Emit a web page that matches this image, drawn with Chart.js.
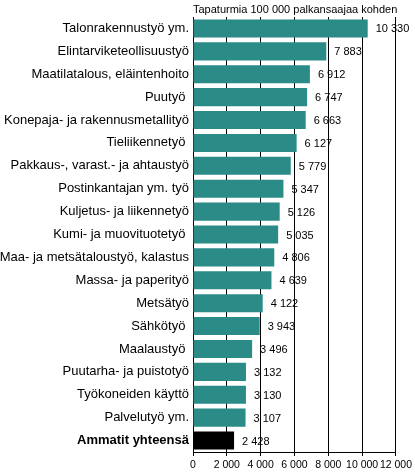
<!DOCTYPE html>
<html>
<head>
<meta charset="utf-8">
<script src="https://cdn.jsdelivr.net/npm/chart.js@4"></script>
<style>
  html, body { margin: 0; padding: 0; background: #fff; }
  #report { display: block; }
</style>
</head>
<body>
<canvas id="report" width="415" height="473"></canvas>
<script>
const ammatit = [
    'Talonrakennustyö ym.',
    'Elintarviketeollisuustyö',
    'Maatilatalous, eläintenhoito',
    'Puutyö ',
    'Konepaja- ja rakennusmetallityö',
    'Tieliikennetyö ',
    'Pakkaus-, varast.- ja ahtaustyö',
    'Postinkantajan ym. työ',
    'Kuljetus- ja liikennetyö',
    'Kumi- ja muovituotetyö ',
    'Maa- ja metsätaloustyö, kalastus',
    'Massa- ja paperityö',
    'Metsätyö',
    'Sähkötyö ',
    'Maalaustyö ',
    'Puutarha- ja puistotyö',
    'Työkoneiden käyttö',
    'Palvelutyö ym.',
    'Ammatit yhteensä'
];
const tapaturmat = [10330, 7883, 6912, 6747, 6663, 6127, 5779, 5347, 5126, 5035,
                    4806, 4639, 4122, 3943, 3496, 3132, 3130, 3107, 2428];
const xTicks = [0, 2000, 4000, 6000, 8000, 10000, 12000];
const otsikko = 'Tapaturmia 100 000 palkansaajaa kohden';

const FONT = '"Liberation Sans", Arial, sans-serif';
const teal = '#2a8b87';

function fmt(n) {
    return String(n).replace(/\B(?=(\d{3})+(?!\d))/g, ' ');
}

document.addEventListener("DOMContentLoaded", function() {

    const lastIdx = ammatit.length - 1;

    // arvot palkkien perään
    const valueLabels = {
        id: 'valueLabels',
        afterDatasetsDraw(chart) {
            const ctx = chart.ctx;
            const meta = chart.getDatasetMeta(0);
            ctx.save();
            ctx.font = '11px ' + FONT;
            ctx.fillStyle = '#000';
            ctx.textAlign = 'left';
            ctx.textBaseline = 'middle';
            meta.data.forEach((bar, i) => {
                ctx.fillText(fmt(tapaturmat[i]), bar.x + 8, bar.y + 1);
            });
            ctx.restore();
        }
    };

    const topTitle = {
        id: 'topTitle',
        afterDraw(chart) {
            const ctx = chart.ctx;
            ctx.save();
            ctx.font = '11px ' + FONT;
            ctx.fillStyle = '#000';
            ctx.textAlign = 'left';
            ctx.textBaseline = 'alphabetic';
            ctx.fillText(otsikko, chart.chartArea.left, 13);
            ctx.restore();
        }
    };

    const ctx = document.getElementById('report').getContext('2d');
    let myChart = new Chart(ctx, {
        type: 'bar',
        data: {
            labels: ammatit,
            datasets: [{
                data: tapaturmat,
                backgroundColor: tapaturmat.map((v, i) => i === lastIdx ? '#000000' : teal),
                borderWidth: 0,
                barPercentage: 0.79,
                categoryPercentage: 1
            }]
        },
        plugins: [valueLabels, topTitle],
        options: {
            indexAxis: 'y',
            responsive: false,
            devicePixelRatio: 1,
            animation: false,
            layout: { padding: { top: 17, right: 16, left: 0, bottom: 0 } },
            plugins: {
                legend: { display: false },
                title: { display: false },
                tooltip: { enabled: false }
            },
            scales: {
                x: {
                    min: 0,
                    max: 12000,
                    afterBuildTicks: (scale) => {
                        scale.ticks = xTicks.map(v => ({ value: v }));
                    },
                    afterFit: (scale) => { scale.height = 21; },
                    ticks: {
                        color: '#000',
                        autoSkip: false,
                        font: { family: FONT, size: 10.5 },
                        padding: 3,
                        maxRotation: 0,
                        callback: (v) => fmt(v)
                    },
                    grid: {
                        color: '#000',
                        lineWidth: 1,
                        drawTicks: true,
                        tickLength: 4
                    },
                    border: { display: true, color: '#000', width: 1 }
                },
                y: {
                    afterFit: (scale) => { scale.width = 193; },
                    ticks: {
                        color: '#000',
                        autoSkip: false,
                        padding: 4,
                        font: (c) => ({
                            family: FONT,
                            size: 13,
                            weight: c.index === lastIdx ? 'bold' : 'normal'
                        })
                    },
                    grid: { display: false, drawTicks: false },
                    border: { display: true, color: '#000', width: 1 }
                }
            }
        }
    });
});
</script>
</body>
</html>
